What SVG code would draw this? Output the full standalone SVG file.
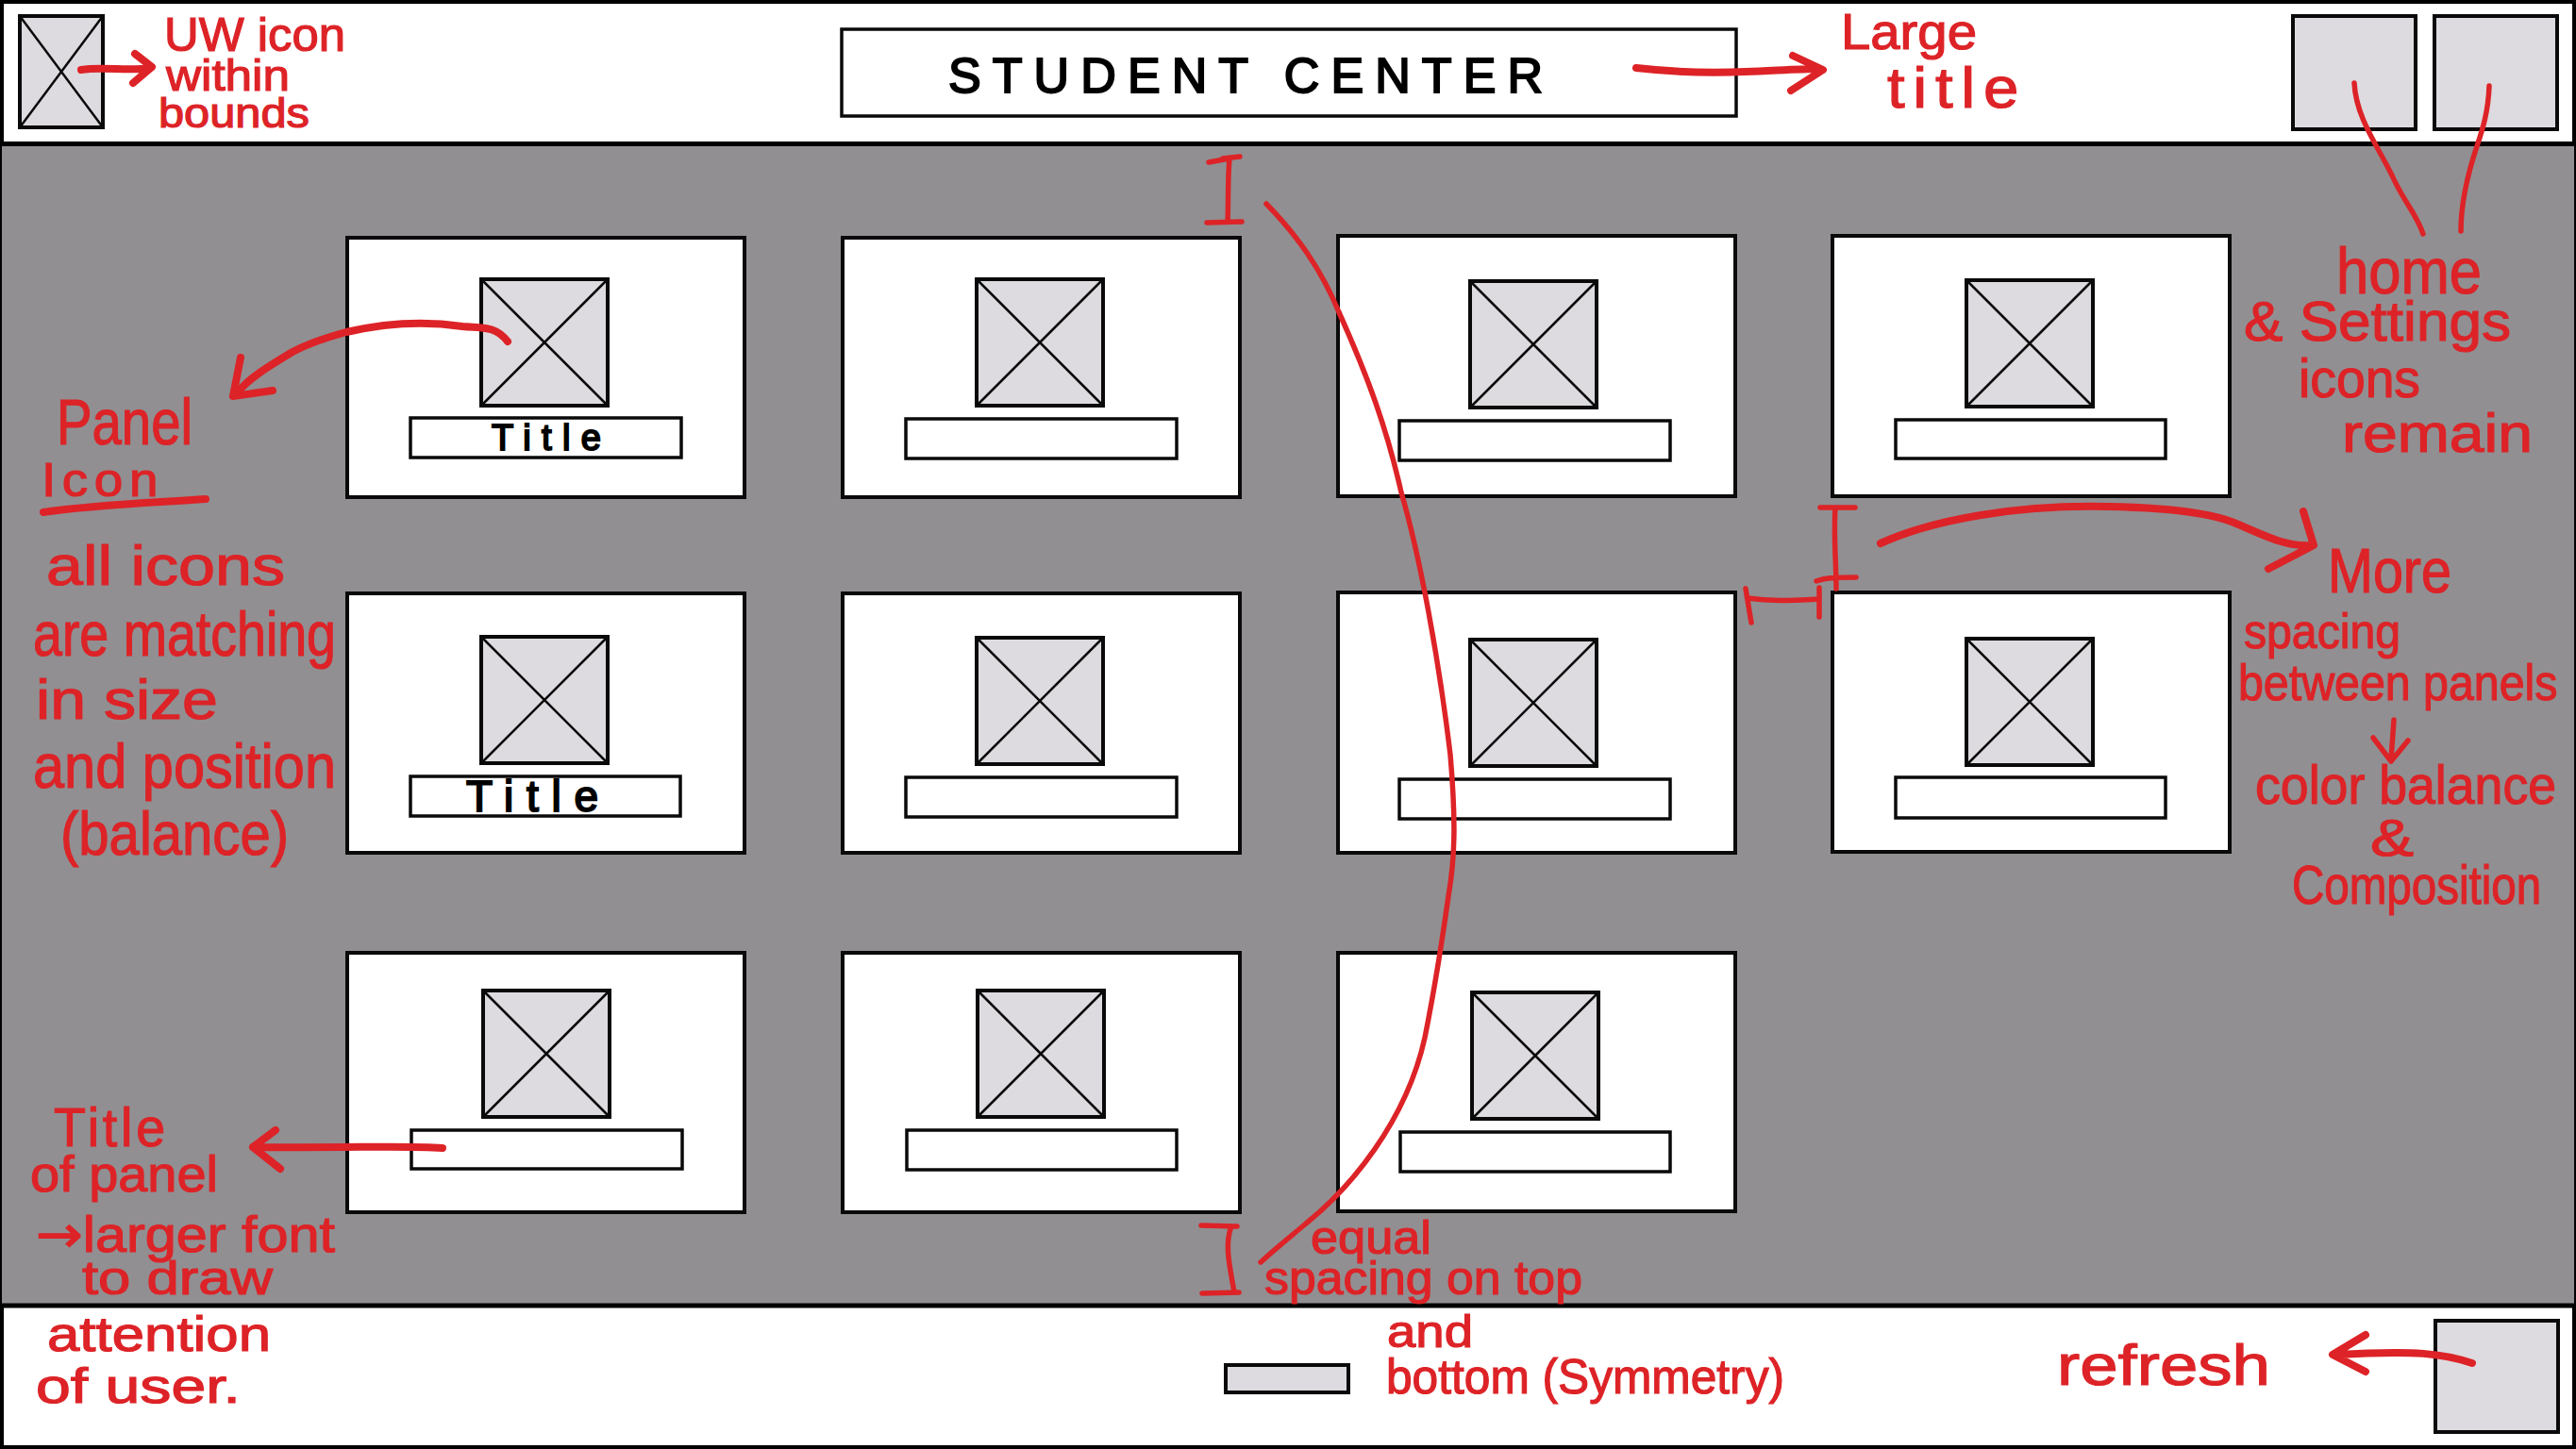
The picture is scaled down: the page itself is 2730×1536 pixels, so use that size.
<svg xmlns="http://www.w3.org/2000/svg" width="2730" height="1536" viewBox="0 0 2730 1536">
<style>
.frame{fill:#fff;stroke:#000;stroke-width:5}
.panel{fill:#fff;stroke:#0a0a0a;stroke-width:4}
.icon{fill:#dddbdf;stroke:#0a0a0a;stroke-width:4}
.bar{fill:#fff;stroke:#0a0a0a;stroke-width:3.5}
.x{stroke:#0a0a0a;stroke-width:2.5;fill:none}
.r{fill:none;stroke:#dd2327;stroke-width:8;stroke-linecap:round;stroke-linejoin:round}
.rt{stroke-width:5.5}
.note{font-family:"Liberation Sans Narrow","Liberation Sans",sans-serif;fill:#dd2327;stroke:#dd2327;stroke-width:1.2}
.wide{font-family:"Liberation Sans",sans-serif}
.ink{font-family:"Liberation Sans",sans-serif;fill:#000;stroke:#000;stroke-width:2}
.arr{font-family:"DejaVu Sans",sans-serif}
</style>
<defs>
<g id="ic"><rect class="icon" width="134" height="134"/><path class="x" d="M0 0L134 134M134 0L0 134"/></g>
</defs>
<rect width="2730" height="1536" fill="#918f92"/>
<g id="header"><rect class="frame" x="1.5" y="1.5" width="2727" height="151"/></g>
<g id="footer"><rect class="frame" x="1.5" y="1384" width="2727" height="150.5"/></g>
<rect x="0" y="0" width="2730" height="1536" fill="none" stroke="#000" stroke-width="4"/>

<g id="uw-icon"><rect class="icon" x="21" y="17" width="88" height="118"/><path class="x" d="M21 17L109 135M109 17L21 135"/></g>
<g id="title-box"><rect class="bar" x="892" y="31" width="948" height="92"/><text class="ink" x="1005" y="98" font-size="52" textLength="630" lengthAdjust="spacing">STUDENT CENTER</text></g>
<g id="home-icon"><rect class="icon" x="2430" y="17" width="130" height="120"/></g>
<g id="settings-icon"><rect class="icon" x="2580" y="17" width="130" height="120"/></g>

<g id="panel-1-1"><rect class="panel" x="368" y="252" width="421" height="275"/><use href="#ic" x="510" y="296"/><rect class="bar" x="435" y="443" width="287" height="42"/><text class="ink" x="521" y="477" font-size="38" textLength="116" lengthAdjust="spacing">Title</text></g>
<g id="panel-1-2"><rect class="panel" x="893" y="252" width="421" height="275"/><use href="#ic" x="1035" y="296"/><rect class="bar" x="960" y="444" width="287" height="42"/></g>
<g id="panel-1-3"><rect class="panel" x="1418" y="250" width="421" height="276"/><use href="#ic" x="1558" y="298"/><rect class="bar" x="1483" y="446" width="287" height="42"/></g>
<g id="panel-1-4"><rect class="panel" x="1942" y="250" width="421" height="276"/><use href="#ic" x="2084" y="297"/><rect class="bar" x="2009" y="445" width="286" height="41"/></g>

<g id="panel-2-1"><rect class="panel" x="368" y="629" width="421" height="275"/><use href="#ic" x="510" y="675"/><rect class="bar" x="435" y="823" width="286" height="42"/><text class="ink" x="494" y="860" font-size="46" textLength="140" lengthAdjust="spacing">Title</text></g>
<g id="panel-2-2"><rect class="panel" x="893" y="629" width="421" height="275"/><use href="#ic" x="1035" y="676"/><rect class="bar" x="960" y="824" width="287" height="42"/></g>
<g id="panel-2-3"><rect class="panel" x="1418" y="628" width="421" height="276"/><use href="#ic" x="1558" y="678"/><rect class="bar" x="1483" y="826" width="287" height="42"/></g>
<g id="panel-2-4"><rect class="panel" x="1942" y="628" width="421" height="275"/><use href="#ic" x="2084" y="677"/><rect class="bar" x="2009" y="824" width="286" height="43"/></g>

<g id="panel-3-1"><rect class="panel" x="368" y="1010" width="421" height="275"/><use href="#ic" x="512" y="1050"/><rect class="bar" x="436" y="1198" width="287" height="41"/></g>
<g id="panel-3-2"><rect class="panel" x="893" y="1010" width="421" height="275"/><use href="#ic" x="1036" y="1050"/><rect class="bar" x="961" y="1198" width="286" height="42"/></g>
<g id="panel-3-3"><rect class="panel" x="1418" y="1010" width="421" height="274"/><use href="#ic" x="1560" y="1052"/><rect class="bar" x="1484" y="1200" width="286" height="42"/></g>

<g id="dot-indicator"><rect class="icon" x="1299" y="1447" width="130" height="29"/></g>
<g id="refresh-icon"><rect class="icon" x="2581" y="1400" width="130" height="118"/></g>

<g id="connectors">
<path class="r" d="M86 74C110 70 135 76 160 72M143 57L161 71L141 88"/>
<path class="r" d="M1734 72C1770 76 1810 78 1850 76C1880 75 1905 73 1928 73M1900 59L1932 74L1898 96"/>
<path class="r rt" d="M2495 88C2497 125 2520 155 2535 186C2548 215 2560 225 2568 248"/>
<path class="r rt" d="M2638 91C2637 120 2630 140 2625 155C2615 185 2608 215 2608 245"/>
<path class="r" d="M538 362C525 345 511 348 490 346C450 340 410 342 367 352C345 358 325 365 310 373C285 388 262 402 250 418M255 379L247 420L289 414"/>
<path class="r" d="M46 543C100 535 160 533 218 529"/>
<path class="r" d="M469 1217C430 1214 380 1217 268 1216M292 1198L268 1216L297 1239"/>
<path class="r rt" d="M1342 216C1375 250 1400 285 1419 331C1450 400 1470 455 1485 522C1505 590 1525 700 1537 800C1543 870 1542 910 1535 950C1528 1000 1522 1040 1510 1100C1490 1190 1430 1260 1384 1297C1365 1313 1350 1325 1336 1338"/>
<path class="r rt" d="M1281 172L1303 168M1296 168L1314 166M1303 168C1301 190 1302 210 1301 235M1279 236L1316 235"/>
<path class="r rt" d="M1273 1299L1311 1300M1305 1300C1297 1320 1304 1345 1308 1370M1274 1371L1313 1370"/>
<path class="r rt" d="M1929 538L1966 538M1945 538C1943 570 1946 595 1946 624M1925 616C1935 612 1950 612 1967 612"/>
<path class="r rt" d="M1850 624L1856 660M1852 634C1880 638 1905 636 1928 635M1928 623L1928 654"/>
<path class="r" d="M1993 576C2050 550 2140 535 2233 537C2290 538 2335 542 2365 553C2395 565 2420 580 2449 578M2441 542L2452 578L2404 603"/>
<path class="r rt" d="M2537 763L2534 805M2515 782L2534 807L2552 785"/>
<path class="r" d="M2620 1445C2590 1435 2560 1431 2476 1436M2507 1415L2472 1436L2507 1454"/>
</g>

<g id="annotations">
<text class="note wide" x="174" y="54" font-size="50" textLength="192" lengthAdjust="spacingAndGlyphs">UW icon</text>
<text class="note wide" x="176" y="96" font-size="46" textLength="131" lengthAdjust="spacingAndGlyphs">within</text>
<text class="note wide" x="168" y="135" font-size="44" textLength="160" lengthAdjust="spacingAndGlyphs">bounds</text>
<text class="note wide" x="1951" y="52" font-size="54" textLength="144" lengthAdjust="spacingAndGlyphs">Large</text>
<text class="note wide" x="2000" y="114" font-size="62" letter-spacing="8" textLength="148" lengthAdjust="spacingAndGlyphs">title</text>
<text class="note" x="60" y="471" font-size="68" textLength="144" lengthAdjust="spacingAndGlyphs">Panel</text>
<text class="note wide" x="44" y="526" font-size="50" letter-spacing="6" textLength="130" lengthAdjust="spacingAndGlyphs">Icon</text>
<text class="note wide" x="49" y="620" font-size="60" textLength="253" lengthAdjust="spacingAndGlyphs">all icons</text>
<text class="note" x="35" y="695" font-size="66" textLength="321" lengthAdjust="spacingAndGlyphs">are matching</text>
<text class="note wide" x="38" y="762" font-size="60" textLength="193" lengthAdjust="spacingAndGlyphs">in size</text>
<text class="note" x="35" y="835" font-size="66" textLength="321" lengthAdjust="spacingAndGlyphs">and position</text>
<text class="note" x="64" y="906" font-size="64" textLength="242" lengthAdjust="spacingAndGlyphs">(balance)</text>
<text class="note wide" x="57" y="1215" font-size="58" letter-spacing="4" textLength="122" lengthAdjust="spacingAndGlyphs">Title</text>
<text class="note wide" x="32" y="1263" font-size="54" textLength="199" lengthAdjust="spacingAndGlyphs">of panel</text>
<text class="note wide" x="38" y="1327" font-size="54" textLength="317" lengthAdjust="spacingAndGlyphs"><tspan class="arr">→</tspan>larger font</text>
<text class="note wide" x="87" y="1372" font-size="50" textLength="202" lengthAdjust="spacingAndGlyphs">to draw</text>
<text class="note wide" x="50" y="1432" font-size="52" textLength="237" lengthAdjust="spacingAndGlyphs">attention</text>
<text class="note wide" x="38" y="1487" font-size="52" textLength="217" lengthAdjust="spacingAndGlyphs">of user.</text>
<text class="note" x="1389" y="1329" font-size="50" textLength="128" lengthAdjust="spacingAndGlyphs">equal</text>
<text class="note" x="1340" y="1372" font-size="50" textLength="337" lengthAdjust="spacingAndGlyphs">spacing on top</text>
<text class="note wide" x="1470" y="1428" font-size="48" textLength="91" lengthAdjust="spacingAndGlyphs">and</text>
<text class="note" x="1469" y="1477" font-size="52" textLength="422" lengthAdjust="spacingAndGlyphs">bottom (Symmetry)</text>
<text class="note wide" x="2180" y="1468" font-size="62" textLength="226" lengthAdjust="spacingAndGlyphs">refresh</text>
<text class="note" x="2476" y="311" font-size="68" textLength="154" lengthAdjust="spacingAndGlyphs">home</text>
<text class="note" x="2378" y="361" font-size="60" textLength="283" lengthAdjust="spacingAndGlyphs">&amp; Settings</text>
<text class="note" x="2436" y="421" font-size="58" textLength="129" lengthAdjust="spacingAndGlyphs">icons</text>
<text class="note wide" x="2482" y="479" font-size="58" textLength="202" lengthAdjust="spacingAndGlyphs">remain</text>
<text class="note" x="2467" y="628" font-size="66" textLength="131" lengthAdjust="spacingAndGlyphs">More</text>
<text class="note" x="2378" y="687" font-size="52" textLength="166" lengthAdjust="spacingAndGlyphs">spacing</text>
<text class="note wide" transform="translate(2372 742) scale(0.895 1)" font-size="54">between panels</text>
<text class="note wide" transform="translate(2390 852) scale(0.925 1)" font-size="58">color balance</text>
<text class="note" x="2512" y="907" font-size="56" textLength="46" lengthAdjust="spacingAndGlyphs">&amp;</text>
<text class="note wide" transform="translate(2429 958) scale(0.82 1)" font-size="58">Composition</text>
</g>
</svg>
